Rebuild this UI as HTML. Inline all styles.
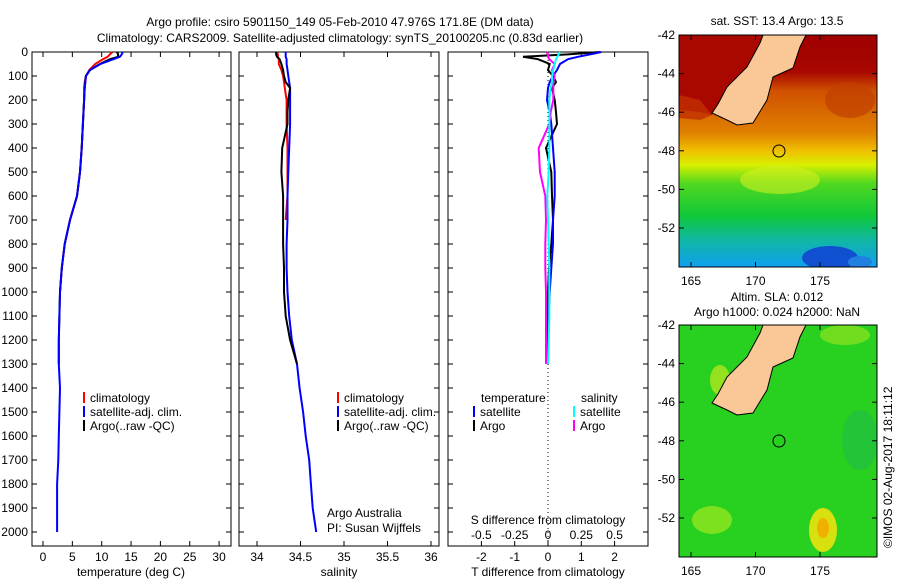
<!DOCTYPE html>
<html><head><meta charset="utf-8"><style>
body{margin:0;background:#fff}
svg text{font-family:"Liberation Sans",sans-serif;font-size:12px;fill:#000}
</style></head><body>
<svg id="s" width="900" height="580" viewBox="0 0 900 580">
<defs>
<linearGradient id="sst" x1="0" y1="0" x2="0" y2="1">
<stop offset="0" stop-color="#a00000"/><stop offset="0.16" stop-color="#a80800"/>
<stop offset="0.24" stop-color="#d05000"/><stop offset="0.42" stop-color="#e08000"/>
<stop offset="0.5" stop-color="#f0c000"/><stop offset="0.56" stop-color="#d8f000"/>
<stop offset="0.64" stop-color="#50d820"/><stop offset="0.78" stop-color="#10c838"/>
<stop offset="0.88" stop-color="#10b8a0"/><stop offset="1" stop-color="#10a0f0"/>
</linearGradient>
<clipPath id="c1"><rect x="679" y="35" width="198" height="232"/></clipPath>
<clipPath id="c2"><rect x="679" y="325" width="198" height="232"/></clipPath>
</defs>
<text x="340" y="26" text-anchor="middle">Argo profile: csiro 5901150_149 05-Feb-2010 47.976S 171.8E (DM data)</text>
<text x="340" y="42" text-anchor="middle">Climatology: CARS2009. Satellite-adjusted climatology: synTS_20100205.nc (0.83d earlier)</text>
<g id="plots"></g>

<!-- Map 1 -->
<g clip-path="url(#c1)">
<rect x="679" y="35" width="198" height="232" fill="url(#sst)"/>
<polygon points="679,35 772,35 760,60 740,80 720,100 712,115 700,112 679,110" fill="#a80800"/>
<polygon points="679,95 700,100 712,115 700,120 679,118" fill="#c03000" opacity="0.8"/>
<ellipse cx="850" cy="100" rx="25" ry="18" fill="#c04000" opacity="0.7"/>
<ellipse cx="780" cy="180" rx="40" ry="14" fill="#d0f020" opacity="0.6"/>
<ellipse cx="830" cy="258" rx="28" ry="12" fill="#1050d0"/>
<ellipse cx="860" cy="262" rx="12" ry="6" fill="#2080e0"/>
<polygon points="772,35 806,35 800,47 793,68 773,77 767,100 753,123 737,125 727,120 712,113 718,104 727,87 747,67 760,43 763,35" fill="#f9c896" stroke="#000" stroke-width="1"/>
<circle cx="779" cy="151" r="6" fill="none" stroke="#000"/>
</g>
<rect x="679" y="35" width="198" height="232" fill="none" stroke="#000"/>
<text x="777" y="25" text-anchor="middle">sat. SST: 13.4 Argo: 13.5</text>

<!-- Map 2 -->
<g clip-path="url(#c2)">
<rect x="679" y="325" width="198" height="232" fill="#28d020"/>
<ellipse cx="712" cy="520" rx="20" ry="14" fill="#a0e820" opacity="0.7"/>
<ellipse cx="823" cy="530" rx="14" ry="22" fill="#d8e010"/>
<ellipse cx="823" cy="528" rx="6" ry="10" fill="#f0b000"/>
<ellipse cx="720" cy="380" rx="10" ry="15" fill="#c0e820" opacity="0.7"/>
<ellipse cx="845" cy="335" rx="25" ry="10" fill="#a0e820" opacity="0.6"/>
<ellipse cx="860" cy="440" rx="18" ry="30" fill="#20b850" opacity="0.5"/>
<polygon points="772,325 806,325 800,337 793,358 773,367 767,390 753,413 737,415 727,410 712,403 718,394 727,377 747,357 760,333 763,325" fill="#f9c896" stroke="#000" stroke-width="1"/>
<circle cx="779" cy="441" r="6" fill="none" stroke="#000"/>
</g>
<rect x="679" y="325" width="198" height="232" fill="none" stroke="#000"/>
<text x="777" y="301" text-anchor="middle">Altim. SLA: 0.012</text>
<text x="777" y="316" text-anchor="middle">Argo h1000: 0.024 h2000: NaN</text>
<text transform="translate(892,548) rotate(-90)">©IMOS 02-Aug-2017 18:11:12</text>
<g id="maxes"></g>
</svg>
<script>
const depths=[0,10,20,30,50,75,100,125,150,200,250,300,400,500,600,700,800,900,1000,1100,1200,1300,1400,1500,1600,1700,1800,1900,2000];
const tempClim=[11.8,11.4,11,10.2,8.9,7.9,7.3,7.1,7.0,7.0,6.9,6.8,6.6,6.3,5.8,4.6,3.7,3.2,2.9];
const tempSat=[13.6,13.4,13.1,12,9.8,8,7.3,7.2,7.1,7.0,6.9,6.8,6.6,6.3,5.8,4.6,3.7,3.2,2.9,2.8,2.7,2.7,2.9,2.8,2.7,2.6,2.4,2.4,2.4];
const tempArgo=[12.6,12.8,12.8,11.4,9.7,8,7.3,7.2,7.1,7.0,6.9,6.8,6.6,6.3,5.8,4.6,3.7,3.2,2.9,2.8,2.7,2.7];
const salClim=[34.23,34.24,34.24,34.25,34.25,34.28,34.3,34.31,34.32,34.34,34.34,34.34,34.35,34.35,34.35,34.33];
const salSat=[34.33,34.33,34.33,34.34,34.34,34.35,34.36,34.37,34.38,34.38,34.38,34.38,34.37,34.36,34.35,34.35,34.34,34.34,34.35,34.37,34.4,34.46,34.49,34.53,34.56,34.6,34.62,34.64,34.68];
const salArgo=[34.22,34.22,34.23,34.26,34.28,34.3,34.31,34.33,34.38,34.36,34.35,34.35,34.29,34.28,34.3,34.3,34.3,34.31,34.31,34.33,34.38,34.46];
const dTsat=[1.6,1.26,0.9,0.6,0.36,0.27,0.15,0.05,0.0,-0.03,0.05,0.1,0.15,0.2,0.2,0.15,0.15,0.1,0.05,0.02,0.0,0.0];
const dTargo=[1.56,0.6,-0.75,-0.3,0.05,0.0,0.15,0.24,0.12,0.2,0.24,0.27,-0.06,0.1,0.12,0.15,0.1,0.03,0.0,0.0,0.0,0.0];
const dSargo=[-0.01,0.0,0.0,0.01,0.05,0.03,0.05,0.04,0.04,0.04,0.02,0.01,-0.07,-0.06,-0.02,-0.015,-0.02,-0.02,-0.015,-0.015,-0.015,-0.015];
const dSsat=[0.09,0.08,0.07,0.06,0.05,0.04,0.03,0.03,0.02,0.01,0.01,0.01,0.01,0.005,-0.005,0.0,0.005,0.01,0.01,0.01,0.005,0.0];
const depthTicks=[0,100,200,300,400,500,600,700,800,900,1000,1100,1200,1300,1400,1500,1600,1700,1800,1900,2000];
const tTicks=[0,5,10,15,20,25,30];
const sTicks=[34,34.5,35,35.5,36];
const tdTicks=[-2,-1,0,1,2];
const sdTicks=[-0.5,-0.25,0,0.25,0.5];
const sdLabels=["-0.5","-0.25","0","0.25","0.5"];
const lonTicks=[165,170,175];
const latTicks=[-42,-44,-46,-48,-50,-52];

const NS="http://www.w3.org/2000/svg";
const g=document.getElementById('plots');
const mg=document.getElementById('maxes');
function el(t,a,p){const e=document.createElementNS(NS,t);for(const k in a)e.setAttribute(k,a[k]);(p||g).appendChild(e);return e;}
const Y=d=>52+d*0.24;
const xT=v=>43+v*5.87;
const xS=v=>257+(v-34)*87;
const xTd=v=>548+v*33.3;
const xSd=v=>548+v*133.2;
const lonX=v=>691+(v-165)*12.9;
const latY=(v,o)=>o+35+(-42-v)*19.3;

const panels=[[32,199,'temp-panel'],[239,200,'salinity-panel'],[448,200,'difference-panel']];
panels.forEach(p=>{
  const r=el('rect',{x:p[0],y:52,width:p[1],height:494,fill:'none',stroke:'#000'});
  
  
  depthTicks.forEach(d=>{
    el('line',{x1:p[0],x2:p[0]+5,y1:Y(d),y2:Y(d),stroke:'#000'});
    el('line',{x1:p[0]+p[1],x2:p[0]+p[1]-5,y1:Y(d),y2:Y(d),stroke:'#000'});
  });
});
depthTicks.forEach(d=>{
  const t=el('text',{x:28,y:Y(d)+4,'text-anchor':'end'});t.textContent=d;
  
  
});
function xticks(arr,f,labels,ly,name){
  arr.forEach((v,i)=>{
    el('line',{x1:f(v),x2:f(v),y1:546,y2:541,stroke:'#000'});
    el('line',{x1:f(v),x2:f(v),y1:52,y2:57,stroke:'#000'});
    const t=el('text',{x:f(v),y:ly,'text-anchor':'middle'});t.textContent=labels?labels[i]:v;
    
    
  });
}
xticks(tTicks,xT,null,561,'temp-tick-label');
xticks(sTicks,xS,null,561,'salinity-tick-label');
xticks(tdTicks,xTd,null,561,'tdiff-tick-label');
sdTicks.forEach((v,i)=>{
  const t=el('text',{x:xSd(v),y:539,'text-anchor':'middle'});t.textContent=sdLabels[i];
  
  
});
function txt(x,y,s,name,anchor){const t=el('text',{x:x,y:y,'text-anchor':anchor||'start'});t.textContent=s;
  
  return t;}
txt(131,576,'temperature (deg C)','temp-axis-title','middle');
txt(339,576,'salinity','salinity-axis-title','middle');
txt(548,576,'T difference from climatology','tdiff-axis-title','middle');
txt(548,524,'S difference from climatology','sdiff-axis-title','middle');
txt(327,517,'Argo Australia','credit-line-1');
txt(327,532,'PI: Susan Wijffels','credit-pi');
el('line',{x1:548,x2:548,y1:52,y2:546,stroke:'#000','stroke-dasharray':'1,3'});

function line(xs,f,col,name){
  const pts=xs.map((v,i)=>f(v).toFixed(1)+','+Y(depths[i]).toFixed(1)).join(' ');
  const p=el('polyline',{points:pts,fill:'none',stroke:col,'stroke-width':2});
  
  
}
line(tempClim,xT,'#f00','temp-climatology-line');
line(tempArgo,xT,'#000','temp-argo-line');
line(tempSat,xT,'#00f','temp-satellite-line');
line(salClim,xS,'#f00','salinity-climatology-line');
line(salSat,xS,'#00f','salinity-satellite-line');
line(salArgo,xS,'#000','salinity-argo-line');
line(dTargo,xTd,'#000','tdiff-argo-line');
line(dTsat,xTd,'#00f','tdiff-satellite-line');
line(dSargo,xSd,'#f0f','sdiff-argo-line');
line(dSsat,xSd,'#0ff','sdiff-satellite-line');

function legend(x,y,col,label,name){
  el('rect',{x:x,y:y-10,width:2,height:11,fill:col});
  txt(x+7,y,label,name);
}
[[83,'climatology','#f00'],[83,'satellite-adj. clim.','#00f'],[83,'Argo(..raw -QC)','#000']].forEach((l,i)=>{
  legend(l[0],402+i*14,l[2],l[1],'temp-legend-entry');
  legend(337,402+i*14,l[2],l[1],'salinity-legend-entry');
});
txt(481,402,'temperature','diff-legend-temp-header');
txt(581,402,'salinity','diff-legend-sal-header');
legend(473,416,'#00f','satellite','diff-legend-entry');
legend(473,430,'#000','Argo','diff-legend-entry');
legend(573,416,'#0ff','satellite','diff-legend-entry');
legend(573,430,'#f0f','Argo','diff-legend-entry');

[0,290].forEach(o=>{
  lonTicks.forEach(v=>{
    el('line',{x1:lonX(v),x2:lonX(v),y1:o+267,y2:o+262,stroke:'#000'},mg);
    el('line',{x1:lonX(v),x2:lonX(v),y1:o+35,y2:o+40,stroke:'#000'},mg);
    const t=el('text',{x:lonX(v),y:o+285,'text-anchor':'middle'},mg);t.textContent=v;
    
    
  });
  latTicks.forEach(v=>{
    el('line',{x1:877,x2:872,y1:latY(v,o),y2:latY(v,o),stroke:'#000'},mg);
    el('line',{x1:679,x2:684,y1:latY(v,o),y2:latY(v,o),stroke:'#000'},mg);
    const t=el('text',{x:675,y:latY(v,o)+4,'text-anchor':'end'},mg);t.textContent=v;
    
    
  });
});
</script>
</body></html>
